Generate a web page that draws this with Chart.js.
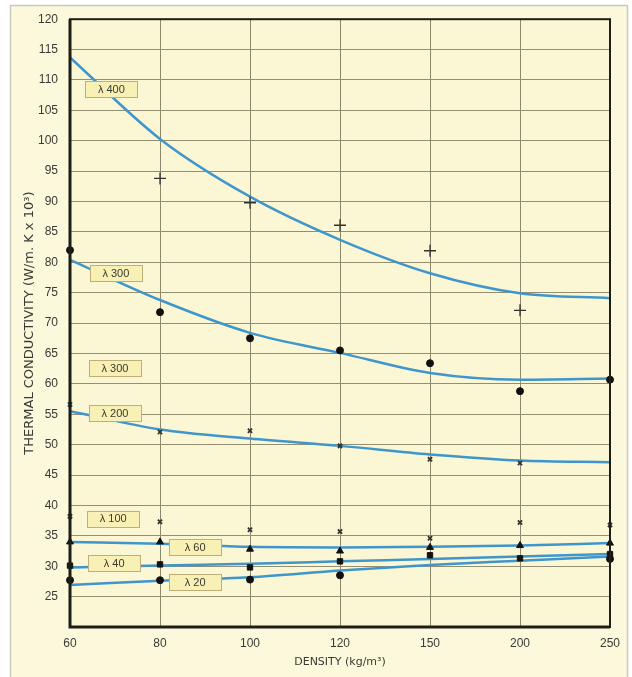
<!DOCTYPE html>
<html>
<head>
<meta charset="utf-8">
<script src="https://cdn.jsdelivr.net/npm/chart.js@4.4.1/dist/chart.umd.min.js"></script>
<style>
  html, body { margin: 0; padding: 0; background: #ffffff; }
  #wrap { width: 632px; height: 677px; position: relative; }
</style>
</head>
<body>
<div id="wrap"><canvas id="c" width="632" height="677"></canvas></div>
<script>
// ---- Data ----
const densities = ['60', '80', '100', '120', '150', '200', '250'];
const yTicks = { min: 20, max: 120, step: 5 };

// Fitted curves (blue lines)
const curve400 = [113.7, 100.3, 90.8, 83.7, 78.2, 74.9, 74.1];
const curve300 = [80.4, 73.8, 68.4, 65.1, 61.8, 60.7, 60.9];
const curve200 = [55.5, 52.5, 51.0, 49.8, 48.4, 47.4, 47.1];
const curve60  = [34.0, 33.7, 33.2, 33.1, 33.2, 33.4, 33.8];
const curve40  = [29.8, 30.1, 30.4, 30.8, 31.2, 31.6, 32.0];
const curve20  = [26.9, 27.6, 28.2, 29.3, 30.2, 30.9, 31.6];

// Measured points (markers)
const pts400 = [null, 93.8, 89.8, 86.1, 81.9, 72.1, null];
const pts300 = [82.0, 71.8, 67.5, 65.5, 63.4, 58.8, 60.7];
const pts200 = [56.6, 52.1, 52.3, 49.8, 47.6, 47.0, null];
const pts100 = [38.2, 37.3, 36.0, 35.7, 34.6, 37.2, 36.8];
const pts60  = [34.0, 34.0, 32.8, 32.5, 33.1, 33.4, 33.8];
const pts40  = [30.1, 30.3, 29.8, 30.8, 31.8, 31.3, 32.0];
const pts20  = [27.7, 27.7, 27.8, 28.5, null, null, 31.2];

// Curve labels: text and anchor in data coordinates (category index, value)
const curveLabels = ['λ 400', 'λ 300', 'λ 300', 'λ 200', 'λ 100', 'λ 60', 'λ 40', 'λ 20'];
const labelIdx    = [0.46, 0.51, 0.50, 0.50, 0.48, 1.39, 0.49, 1.39];
const labelVal    = [108.5, 78.2, 62.6, 55.2, 37.8, 33.1, 30.5, 27.4];

// ---- Styling ----
const BLUE = '#3f96cc';
const FONT = "'Liberation Sans', Arial, sans-serif";
const TFONT = "'DejaVu Sans', 'Liberation Sans', sans-serif";

function curveDs(data) {
  return {
    type: 'line', data, borderColor: BLUE, borderWidth: 2.5,
    pointRadius: 0, cubicInterpolationMode: 'monotone', fill: false, order: 2
  };
}
function ptsDs(data, style, r, filled, bw) {
  return {
    type: 'line', data, showLine: false, pointStyle: style, pointRadius: r,
    pointBorderColor: filled ? '#111' : '#333', pointBackgroundColor: '#111',
    pointBorderWidth: bw, order: 1
  };
}

const framePlugin = {
  id: 'frame',
  beforeDraw(chart) {
    const ctx = chart.ctx;
    ctx.save();
    ctx.fillStyle = '#ffffff';
    ctx.fillRect(0, 0, chart.width, chart.height);
    ctx.fillStyle = '#fbf8dc';
    ctx.fillRect(10, 5, 618, chart.height - 5);
    ctx.strokeStyle = '#c9c9c0';
    ctx.lineWidth = 1.5;
    ctx.beginPath();
    ctx.moveTo(10.5, chart.height);
    ctx.lineTo(10.5, 5.5);
    ctx.lineTo(627.5, 5.5);
    ctx.lineTo(627.5, chart.height);
    ctx.stroke();
    const a = chart.chartArea;
    ctx.fillStyle = '#fbf6d4';
    ctx.fillRect(a.left, a.top, a.right - a.left, a.bottom - a.top);
    ctx.restore();
  },
  afterDraw(chart) {
    const ctx = chart.ctx;
    const a = chart.chartArea;
    const xs = chart.scales.x, ys = chart.scales.y;
    ctx.save();
    // outer frame of plot
    ctx.strokeStyle = '#1e1e18';
    ctx.lineWidth = 2;
    ctx.strokeRect(a.left, a.top, a.right - a.left, a.bottom - a.top);
    ctx.lineWidth = 3;
    ctx.beginPath();
    ctx.moveTo(a.left, a.top);
    ctx.lineTo(a.left, a.bottom);
    ctx.lineTo(a.right, a.bottom);
    ctx.stroke();
    // curve labels
    const x0 = xs.getPixelForValue(0), x1 = xs.getPixelForValue(1);
    ctx.font = '11px ' + FONT;
    ctx.textAlign = 'center';
    ctx.textBaseline = 'middle';
    for (let i = 0; i < curveLabels.length; i++) {
      const cx = x0 + (x1 - x0) * labelIdx[i];
      const cy = ys.getPixelForValue(labelVal[i]);
      const w = 52, h = 16;
      ctx.fillStyle = '#f8f0b4';
      ctx.fillRect(cx - w / 2, cy - h / 2, w, h);
      ctx.strokeStyle = '#bfae78';
      ctx.lineWidth = 1;
      ctx.strokeRect(Math.round(cx - w / 2) + 0.5, Math.round(cy - h / 2) + 0.5, w, h);
      ctx.fillStyle = '#3a3a30';
      ctx.fillText(curveLabels[i], cx, cy + 0.5);
    }
    ctx.restore();
  }
};

new Chart(document.getElementById('c'), {
  data: {
    labels: densities,
    datasets: [
      curveDs(curve400), curveDs(curve300), curveDs(curve200),
      curveDs(curve60), curveDs(curve40), curveDs(curve20),
      ptsDs(pts400, 'cross', 6, false, 1.3),
      ptsDs(pts300, 'circle', 3.5, true, 1),
      ptsDs(pts200, 'crossRot', 3, false, 1.8),
      ptsDs(pts100, 'crossRot', 3, false, 1.8),
      ptsDs(pts60, 'triangle', 4, true, 1),
      ptsDs(pts40, 'rect', 3.8, true, 1),
      ptsDs(pts20, 'circle', 3.5, true, 1)
    ]
  },
  options: {
    responsive: false,
    animation: false,
    layout: { padding: { left: 22, top: 15, right: 22, bottom: 8 } },
    plugins: { legend: { display: false }, tooltip: { enabled: false } },
    scales: {
      x: {
        type: 'category',
        offset: false,
        grid: { color: '#8c866a', lineWidth: 1, offset: false, drawTicks: false },
        border: { display: false },
        ticks: { color: '#3a3a34', font: { family: FONT, size: 12 }, padding: 9, maxRotation: 0, autoSkip: false },
        title: { display: true, text: 'DENSITY (kg/m³)', color: '#3a3a34', font: { family: TFONT, size: 11 }, padding: { top: 0, bottom: 0 } },
        afterFit(s) { s.height = 42; }
      },
      y: {
        type: 'linear',
        min: yTicks.min, max: yTicks.max,
        grid: { color: '#948e72', lineWidth: 1, drawTicks: false },
        border: { display: false },
        ticks: {
          stepSize: yTicks.step, color: '#3a3a34', font: { family: FONT, size: 12 }, padding: 12,
          callback: v => (v === yTicks.min ? '' : v)
        },
        title: { display: true, text: 'THERMAL CONDUCTIVITY (W/m. K x 10³)', color: '#3a3a34', font: { family: TFONT, size: 13 }, padding: { top: 0, bottom: 0 } },
        afterFit(s) { s.width = 48; }
      }
    }
  },
  plugins: [framePlugin]
});
</script>
</body>
</html>
